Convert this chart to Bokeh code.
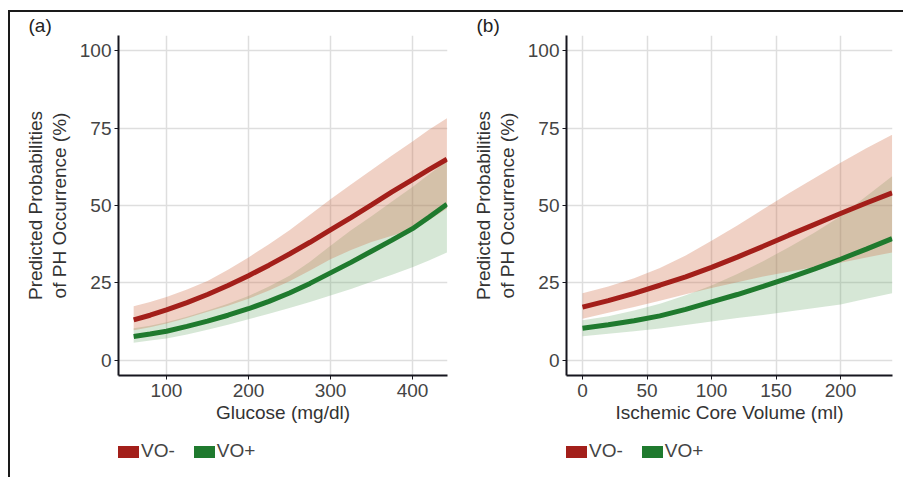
from bokeh.plotting import figure
from bokeh.models import Range1d, FixedTicker, Row, Column, Div, Spacer, LinearAxis
from bokeh.embed import file_html
from bokeh.resources import INLINE

# ---------------- data ----------------
# Panel (a): glucose
glucose = [60, 80, 100, 125, 150, 175, 200, 225, 250, 275, 300, 325, 350, 375, 400, 420, 442]
a_vo_minus = [13.0, 14.5, 16.2, 18.6, 21.2, 24.1, 27.3, 30.7, 34.3, 38.1, 42.1, 46.1, 50.2, 54.4, 58.4, 61.6, 65.0]
a_vo_minus_hi = [17.4, 18.8, 20.4, 22.8, 25.6, 29.2, 33.2, 37.5, 42.0, 47.0, 52.0, 56.8, 61.5, 66.2, 70.7, 74.5, 78.2]
a_vo_minus_lo = [9.6, 10.6, 11.8, 13.6, 15.6, 17.6, 19.8, 22.5, 25.5, 29.0, 32.6, 35.6, 38.2, 40.2, 42.2, 45.2, 49.0]
a_vo_plus = [7.6, 8.4, 9.3, 10.9, 12.6, 14.5, 16.6, 19.0, 21.7, 24.8, 28.2, 31.6, 35.2, 38.8, 42.5, 46.2, 50.4]
a_vo_plus_hi = [10.3, 11.1, 12.2, 14.0, 16.0, 18.2, 20.7, 23.8, 27.3, 31.8, 37.0, 42.0, 46.5, 51.3, 56.0, 60.0, 64.5]
a_vo_plus_lo = [5.6, 6.3, 7.0, 8.3, 9.8, 11.4, 13.2, 15.0, 16.8, 18.8, 20.9, 23.0, 25.3, 27.6, 30.0, 32.2, 34.8]

# Panel (b): ischemic core volume
core = [0, 20, 40, 60, 80, 100, 120, 140, 160, 180, 200, 220, 240]
b_vo_minus = [17.1, 19.2, 21.6, 24.2, 26.9, 30.0, 33.3, 36.8, 40.4, 43.9, 47.4, 50.8, 54.1]
b_vo_minus_hi = [21.6, 23.8, 26.5, 29.8, 33.8, 38.6, 43.5, 48.8, 54.0, 58.9, 63.8, 68.5, 72.9]
b_vo_minus_lo = [13.4, 15.3, 17.2, 19.2, 21.3, 23.3, 25.2, 27.0, 28.6, 30.1, 31.5, 33.2, 34.8]
b_vo_plus = [10.3, 11.4, 12.7, 14.3, 16.4, 18.8, 21.2, 23.8, 26.6, 29.5, 32.6, 35.9, 39.3]
b_vo_plus_hi = [12.9, 14.2, 16.0, 18.2, 21.0, 24.1, 27.8, 32.0, 36.5, 41.3, 46.5, 53.0, 59.5]
b_vo_plus_lo = [7.7, 8.5, 9.3, 10.2, 11.3, 12.5, 13.6, 14.6, 15.7, 16.8, 18.0, 19.8, 21.6]

a_xticks = [100, 200, 300, 400]
b_xticks = [0, 50, 100, 150, 200]
y_ticks = [0, 25, 50, 75, 100]
series_labels = ["VO-", "VO+"]
y_title_lines = ["Predicted Probabilities", "of PH Occurrence (%)"]

# ---------------- style ----------------
FONT = "Liberation Sans"
RED_LINE = "#A31F1A"
GREEN_LINE = "#1F7A2E"
RED_FILL = "#D0704A"
GREEN_FILL = "#6AA86A"
AXIS_C = "#16161f"
GRID_C = "#DEDEDE"
FRAME_C = "#1a1a1a"


def make_panel(x, red, red_hi, red_lo, green, green_hi, green_lo,
               xr, xticks, xlabel, tag, width, left_border, right_border):
    p = figure(width=width, height=425, output_backend="svg", toolbar_location=None,
               x_range=Range1d(*xr), y_range=Range1d(-5, 105),
               min_border_left=left_border, min_border_right=right_border,
               min_border_top=21, min_border_bottom=62)
    p.outline_line_color = None

    # panel tag as a left-shifted title
    p.title.text = tag
    p.title.align = "left"
    p.title.offset = -90
    p.title.standoff = 0
    p.title.vertical_align = "bottom"
    p.title.text_font = FONT
    p.title.text_font_size = "19px"
    p.title.text_font_style = "normal"
    p.title.text_color = "#222222"

    # ribbons
    p.varea(x=x, y1=green_lo, y2=green_hi, fill_color=GREEN_FILL, fill_alpha=0.28)
    p.varea(x=x, y1=red_lo, y2=red_hi, fill_color=RED_FILL, fill_alpha=0.32)
    # lines
    p.line(x=x, y=red, line_color=RED_LINE, line_width=5)
    p.line(x=x, y=green, line_color=GREEN_LINE, line_width=5)

    # outer (first) line of the y title, as a bare axis
    outer = LinearAxis(axis_label=y_title_lines[0], axis_line_color=None,
                       major_tick_line_color=None, minor_tick_line_color=None,
                       major_label_text_alpha=0, axis_label_standoff=0,
                       axis_label_text_font=FONT, axis_label_text_font_size="19px",
                       axis_label_text_font_style="normal", axis_label_text_color="#333333")
    outer.ticker = FixedTicker(ticks=[])
    p.add_layout(outer, "left")

    for ax in (p.xaxis[0], p.yaxis[0]):
        ax.axis_line_color = AXIS_C
        ax.axis_line_width = 2
        ax.major_tick_line_color = AXIS_C
        ax.major_tick_out = 4
        ax.major_tick_in = 0
        ax.minor_tick_line_color = None
        ax.major_label_text_font = FONT
        ax.major_label_text_font_size = "19px"
        ax.major_label_text_color = "#444444"
        ax.axis_label_text_font = FONT
        ax.axis_label_text_font_size = "19px"
        ax.axis_label_text_font_style = "normal"
        ax.axis_label_text_color = "#333333"
    p.xaxis[0].ticker = FixedTicker(ticks=xticks)
    p.yaxis[0].ticker = FixedTicker(ticks=y_ticks)
    p.xaxis[0].axis_label = xlabel
    p.xaxis[0].major_label_standoff = 4
    p.xaxis[0].axis_label_standoff = 2
    p.yaxis[0].axis_label = y_title_lines[1]
    p.yaxis[0].major_label_standoff = 3
    p.yaxis[0].axis_label_standoff = 7

    # grid
    p.xgrid.ticker = FixedTicker(ticks=xticks)
    p.ygrid.ticker = FixedTicker(ticks=y_ticks)
    for g in (p.xgrid[0], p.ygrid[0]):
        g.grid_line_color = GRID_C
        g.grid_line_width = 1.5
    return p


def legend_div(width):
    def swatch(color):
        return ('<span style="display:inline-block;width:21px;height:12px;'
                'background:%s;vertical-align:-1px"></span>' % color)
    html = ('<div style="font-family:\'Liberation Sans\',sans-serif;font-size:19px;'
            'color:#444444;line-height:22px;white-space:nowrap;padding-top:3px">'
            + swatch(RED_LINE) + '<span style="margin-left:2px">%s</span>' % series_labels[0]
            + '<span style="display:inline-block;width:19px"></span>'
            + swatch(GREEN_LINE) + '<span style="margin-left:2px">%s</span>' % series_labels[1]
            + '</div>')
    return Div(text=html, width=width, height=30, margin=0)


p1 = make_panel(glucose, a_vo_minus, a_vo_minus_hi, a_vo_minus_lo,
                a_vo_plus, a_vo_plus_hi, a_vo_plus_lo,
                (41.5, 442.7), a_xticks, "Glucose (mg/dl)", "(a)", 446, 108, 9)
p2 = make_panel(core, b_vo_minus, b_vo_minus_hi, b_vo_minus_lo,
                b_vo_plus, b_vo_plus_hi, b_vo_plus_lo,
                (-12.4, 240.3), b_xticks, "Ischemic Core Volume (ml)", "(b)", 447, 110, 11)

legend_row = Row(children=[Spacer(width=108, height=30, margin=0), legend_div(448), legend_div(300)],
                 spacing=0)
plots = Column(children=[Row(children=[p1, p2], spacing=0), legend_row], spacing=0)

top_bar = Div(text="", width=895, height=2, margin=0, styles={"background-color": FRAME_C})
left_bar = Div(text="", width=2, height=465, margin=0, styles={"background-color": FRAME_C})

layout = Column(children=[
    Spacer(width=1, height=10, margin=0),
    Row(children=[Spacer(width=8, height=2, margin=0), top_bar], spacing=0),
    Row(children=[Spacer(width=8, height=1, margin=0), left_bar, plots], spacing=0),
], spacing=0)

open("out.html", "w").write(file_html(layout, INLINE))
